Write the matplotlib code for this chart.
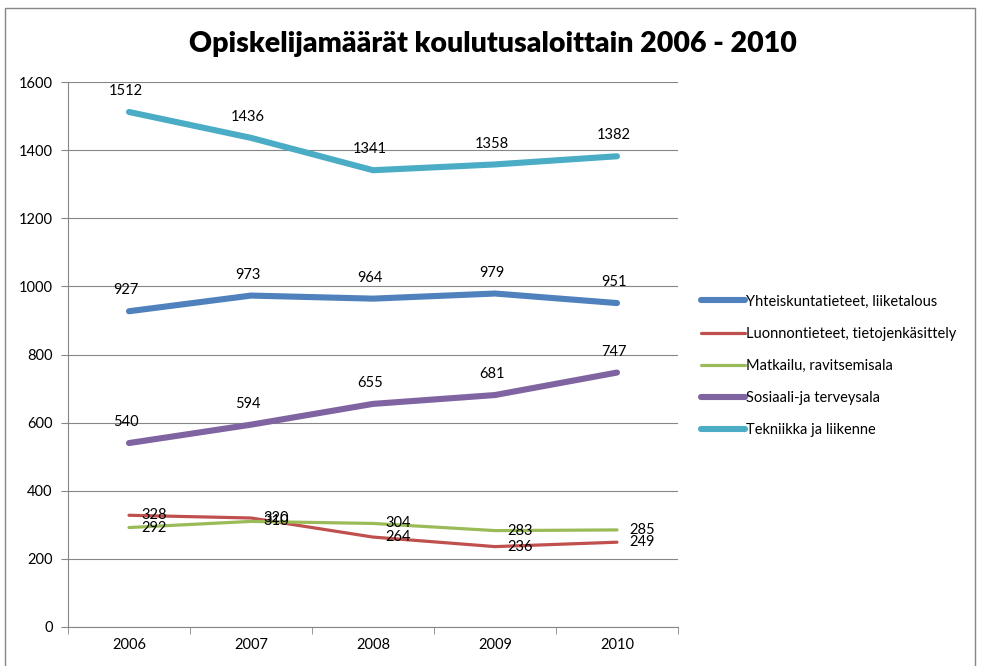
import matplotlib
matplotlib.use("Agg")
import matplotlib.pyplot as plt
from matplotlib.patches import Rectangle
from matplotlib.ticker import FixedLocator

plt.rcParams['font.family'] = ['Lato', 'DejaVu Sans']

years = ["2006", "2007", "2008", "2009", "2010"]
yhteiskunta = [927, 973, 964, 979, 951]
luonnontieteet = [328, 320, 264, 236, 249]
matkailu = [292, 310, 304, 283, 285]
sosiaali = [540, 594, 655, 681, 747]
tekniikka = [1512, 1436, 1341, 1358, 1382]

series = [
    ("Yhteiskuntatieteet, liiketalous", yhteiskunta, "#4F81BD", 4.4, "above"),
    ("Luonnontieteet, tietojenkäsittely", luonnontieteet, "#C0504D", 2.3, "right"),
    ("Matkailu, ravitsemisala", matkailu, "#9BBB59", 2.3, "right"),
    ("Sosiaali-ja terveysala", sosiaali, "#8064A2", 4.4, "above"),
    ("Tekniikka ja liikenne", tekniikka, "#4BACC6", 4.4, "above"),
]

fig = plt.figure(figsize=(9.85, 6.66), dpi=100)
ax = fig.add_axes([68/985, 1-627/666, 610/985, 545/666])

x = list(range(len(years)))
for name, vals, color, lw, pos in series:
    ax.plot(x, vals, color=color, lw=lw, label=name, solid_capstyle='round')
    for xi, v in zip(x, vals):
        if pos == "above":
            ax.annotate(str(v), (xi, v), xytext=(-2, 10), textcoords='offset points',
                        ha='center', va='bottom', fontsize=10.5, color='black')
        else:
            ax.annotate(str(v), (xi, v), xytext=(9, 0), textcoords='offset points',
                        ha='left', va='center', fontsize=10.5, color='black')

ax.set_xlim(-0.5, 4.5)
ax.set_ylim(0, 1600)
ax.set_yticks(range(0, 1601, 200))
ax.set_xticks(x)
ax.set_xticklabels(years)
ax.xaxis.set_minor_locator(FixedLocator([-0.5, 0.5, 1.5, 2.5, 3.5, 4.5]))
ax.tick_params(axis='x', which='major', length=0, labelsize=10.5, pad=8)
ax.tick_params(axis='x', which='minor', length=5, color='#868686', direction='out')
ax.tick_params(axis='y', length=5, color='#868686', labelsize=10.5, pad=6)
ax.grid(axis='y', color='#868686', lw=0.8)
ax.set_axisbelow(True)
for s in ['top', 'right']:
    ax.spines[s].set_visible(False)
ax.spines['left'].set_color('#868686')
ax.spines['bottom'].set_color('#868686')

fig.text(0.5, 1-44/666, "Opiskelijamäärät koulutusaloittain 2006 - 2010",
         ha='center', va='center', fontsize=20.5, fontweight='heavy')

handles, labels = ax.get_legend_handles_labels()
fig.legend(handles, labels, loc='center left', bbox_to_anchor=(695/985, 1-366/666),
           frameon=False, fontsize=10.5, handlelength=3.0, handletextpad=0.1,
           labelspacing=1.25, borderaxespad=0)

fig.patches.append(Rectangle((5/985, -0.01), 970/985, 1-8/666+0.01, transform=fig.transFigure,
                             fill=False, edgecolor='#868686', lw=1))

fig.savefig("out.png", dpi=100)
